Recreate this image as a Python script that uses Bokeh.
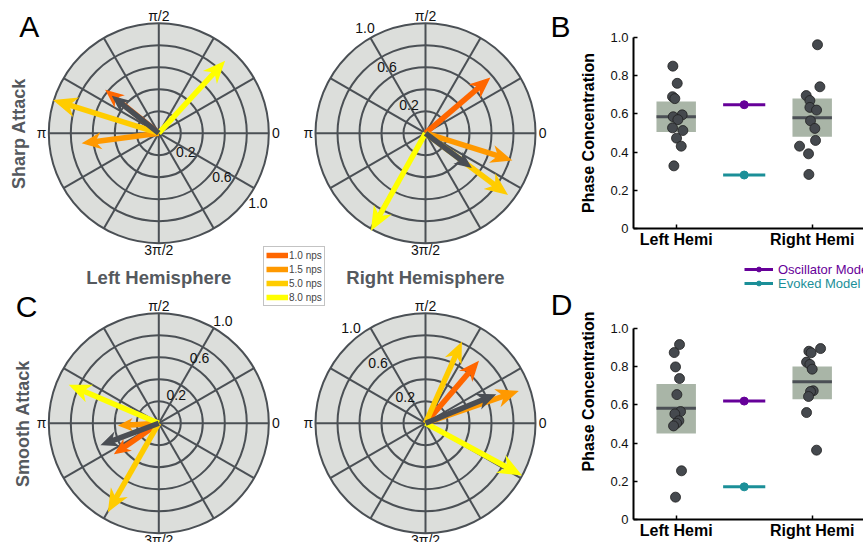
import numpy as np
from bokeh.plotting import figure
from bokeh.models import Range1d, FixedTicker, Legend, LegendItem
from bokeh.layouts import row, column
from bokeh.embed import file_html
from bokeh.resources import INLINE
from bokeh.core.properties import value

FONT = "Liberation Sans"

# ---------------- data ----------------
speed_labels = ["1.0 nps", "1.5 nps", "5.0 nps", "8.0 nps"]
speed_colors = ["#ff6600", "#ff9900", "#ffcc00", "#ffff00"]
mean_color = "#4a4e54"

# vector length (phase concentration) and angle (deg); order: 1.0, 1.5, 5.0, 8.0 nps, mean
sharp_left_len = [0.61, 0.69, 0.99, 0.875, 0.53]
sharp_left_ang = [141.0, 187.5, 162.6, 47.5, 141.5]
sharp_right_len = [0.76, 0.81, 0.92, 1.0, 0.51]
sharp_right_ang = [40.6, -17.4, -36.8, -119.2, -37.0]
smooth_left_len = [0.48, 0.355, 0.915, 0.873, 0.55]
smooth_left_ang = [214.7, 183.4, 240.2, 156.9, 200.6]
smooth_right_len = [0.73, 0.88, 0.796, 0.98, 0.678]
smooth_right_ang = [49.4, 19.1, 66.0, -28.4, 22.3]

ring_values = [0.2, 0.4, 0.6, 0.8, 1.0]
ring_label_values = [0.2, 0.6, 1.0]
ring_label_text = ["0.2", "0.6", "1.0"]
angle_label_deg = [0, 90, 180, 270]
angle_label_text = ["0", "π/2", "π", "3π/2"]
spoke_deg = [0, 30, 60, 90, 120, 150]

hemi_labels = ["Left Hemi", "Right Hemi"]
hemi_pos = [1, 3]
model_pos = 2
y_ticks = [0, 0.2, 0.4, 0.6, 0.8, 1.0]
y_tick_labels = ["0", "0.2", "0.4", "0.6", "0.8", "1.0"]

sharp_left_pc = [0.85, 0.76, 0.69, 0.68, 0.595, 0.585, 0.57, 0.527, 0.513, 0.473, 0.431, 0.328]
sharp_left_jit = [-0.049, 0.015, -0.054, -0.02, 0.088, -0.044, 0.025, -0.054, 0.098, 0.005, 0.074, -0.034]
sharp_right_pc = [0.962, 0.742, 0.696, 0.670, 0.634, 0.620, 0.564, 0.524, 0.461, 0.431, 0.391, 0.283]
sharp_right_jit = [0.078, 0.113, -0.088, -0.034, -0.034, 0.064, -0.025, 0.039, 0.049, -0.186, -0.054, -0.049]
sharp_box_low = [0.505, 0.48]
sharp_box_high = [0.665, 0.68]
sharp_median = [0.585, 0.58]
sharp_oscillator = 0.648
sharp_evoked = 0.28

smooth_left_pc = [0.916, 0.874, 0.799, 0.738, 0.654, 0.565, 0.553, 0.517, 0.504, 0.490, 0.255, 0.117]
smooth_left_jit = [0.049, -0.029, -0.010, 0.049, 0.010, 0.064, -0.020, 0.039, 0.005, -0.039, 0.078, -0.010]
smooth_right_pc = [0.895, 0.881, 0.873, 0.824, 0.812, 0.787, 0.674, 0.670, 0.644, 0.560, 0.363]
smooth_right_jit = [0.123, -0.049, -0.015, -0.083, -0.034, 0.0, 0.015, -0.025, -0.054, -0.083, 0.064]
smooth_box_low = [0.45, 0.63]
smooth_box_high = [0.709, 0.801]
smooth_median = [0.583, 0.721]
smooth_oscillator = 0.62
smooth_evoked = 0.171

model_labels = ["Oscillator Model", "Evoked Model"]

# ---------------- styles / layout ----------------
R = 110.0
DISC = "#dcdedb"
GRID = "#4b5055"
TITLE = "#55595e"
OSC = "#660099"
EVO = "#1b8f98"
BOX = "#a9b5a7"
H_TOTAL = 542

# (lengths, angles, center x, center y, radial label angle)
panels = [
    (sharp_left_len, sharp_left_ang, 158.3, 409.3, -35.0),
    (sharp_right_len, sharp_right_ang, 425.0, 409.3, 120.0),
    (smooth_left_len, smooth_left_ang, 158.3, 119.3, 58.0),
    (smooth_right_len, smooth_right_ang, 425.0, 119.3, 128.0),
]

pl = figure(width=575, height=H_TOTAL, x_range=Range1d(0, 575), y_range=Range1d(0, H_TOTAL),
            x_axis_location=None, y_axis_location=None, min_border=0,
            output_backend="svg", toolbar_location=None)
pl.outline_line_color = None
pl.grid.visible = False

cxs = [p[2] for p in panels]
cys = [p[3] for p in panels]
pl.circle(x=cxs, y=cys, radius=R, fill_color=DISC, line_color=None)

# rings
rx, ry, rr = [], [], []
for cx, cy in zip(cxs, cys):
    for v in ring_values:
        rx.append(cx); ry.append(cy); rr.append(v * R)
pl.circle(x=rx, y=ry, radius=rr, fill_color=None, line_color=GRID, line_width=2)

# spokes
sx0, sy0, sx1, sy1 = [], [], [], []
for cx, cy in zip(cxs, cys):
    for d in spoke_deg:
        t = np.deg2rad(d)
        sx0.append(cx + R * np.cos(t)); sy0.append(cy + R * np.sin(t))
        sx1.append(cx - R * np.cos(t)); sy1.append(cy - R * np.sin(t))
pl.segment(x0=sx0, y0=sy0, x1=sx1, y1=sy1, line_color=GRID, line_width=2)

# radial labels
lx, ly, lt = [], [], []
for (_, _, cx, cy, la) in panels:
    t = np.deg2rad(la)
    for v, s in zip(ring_label_values, ring_label_text):
        d = v * R + 11
        lx.append(cx + d * np.cos(t)); ly.append(cy + d * np.sin(t)); lt.append(s)
pl.text(x=lx, y=ly, text=lt, text_font=value(FONT), text_font_size="14px",
        text_align="center", text_baseline="middle", text_color="#111111")

# angle labels
ax_, ay_, at_ = [], [], []
for cx, cy in zip(cxs, cys):
    for d, s in zip(angle_label_deg, angle_label_text):
        t = np.deg2rad(d)
        ax_.append(cx + 1.065 * R * np.cos(t)); ay_.append(cy + 1.065 * R * np.sin(t)); at_.append(s)
pl.text(x=ax_, y=ay_, text=at_, text_font=value(FONT), text_font_size="14px",
        text_align="center", text_baseline="middle", text_color="#111111")

# arrows
def arrow_parts(idx):
    x0, y0, x1, y1, hx, hy = [], [], [], [], [], []
    for (lens, angs, cx, cy, _) in panels:
        L = lens[idx] * R
        t = np.deg2rad(angs[idx])
        ux, uy = np.cos(t), np.sin(t)
        nx, ny = -uy, ux
        h = 6 + 0.13 * L
        w = 3 + 0.05 * L
        tx, ty = cx + L * ux, cy + L * uy
        x0.append(cx); y0.append(cy)
        x1.append(tx - 0.55 * h * ux); y1.append(ty - 0.55 * h * uy)
        bx, by = tx - h * ux, ty - h * uy
        mx, my = tx - 0.7 * h * ux, ty - 0.7 * h * uy
        hx.append([tx, bx + w * nx, mx, bx - w * nx])
        hy.append([ty, by + w * ny, my, by - w * ny])
    return x0, y0, x1, y1, hx, hy

colors_all = speed_colors + [mean_color]
seg_renderers = []
for i, col in enumerate(colors_all):
    x0, y0, x1, y1, hx, hy = arrow_parts(i)
    r = pl.segment(x0=x0, y0=y0, x1=x1, y1=y1, line_color=col, line_width=5.5)
    pl.patches(xs=hx, ys=hy, fill_color=col, line_color=col, line_width=1.5, line_join="miter")
    seg_renderers.append(r)

legend_nps = Legend(items=[LegendItem(label=lab, renderers=[seg_renderers[i]])
                           for i, lab in enumerate(speed_labels)],
                    location=(263, 236), padding=2, margin=0, spacing=2,
                    glyph_width=22, glyph_height=12, label_height=12, label_standoff=1,
                    label_text_font=FONT, label_text_font_size="10px",
                    border_line_color="#888888", border_line_width=1,
                    background_fill_color="white", background_fill_alpha=1)
pl.add_layout(legend_nps)

# titles
pl.text(x=[158.3, 425.0], y=[265, 265], text=["Left Hemisphere", "Right Hemisphere"],
        text_font=value(FONT), text_font_size="18.5px", text_font_style="bold",
        text_align="center", text_baseline="middle", text_color=TITLE)
pl.text(x=[18.5, 22.0], y=[409, 119], text=["Sharp Attack", "Smooth Attack"],
        angle=np.pi / 2, text_font=value(FONT), text_font_size="18px", text_font_style="bold",
        text_align="center", text_baseline="middle", text_color=TITLE)
pl.text(x=[28.8, 560.0, 26.0, 561.0], y=[516, 516, 236, 238], text=["A", "B", "C", "D"],
        text_font=value(FONT), text_font_size="30px",
        text_align="center", text_baseline="middle", text_color="black")

# ---------------- hemisphere panels ----------------
PX_PER_UNIT = 68.0
X_LO = 1 - (675.7 - 633) / PX_PER_UNIT
X_HI = 1 + (863 - 675.7) / PX_PER_UNIT
BOX_HW = 0.29
MODEL_HW = 0.31


def hemi_fig(height, top, bottom, y_top, left_pc, left_jit, right_pc, right_jit,
             box_low, box_high, median, osc, evo):
    p = figure(width=288, height=height, x_range=Range1d(X_LO, X_HI), y_range=Range1d(0, y_top),
               min_border_left=58, min_border_right=0, min_border_top=top, min_border_bottom=bottom,
               output_backend="svg", toolbar_location=None)
    p.grid.visible = False
    p.outline_line_color = None
    p.xaxis.ticker = FixedTicker(ticks=hemi_pos)
    p.xaxis.major_label_overrides = {k: v for k, v in zip(hemi_pos, hemi_labels)}
    p.yaxis.ticker = FixedTicker(ticks=y_ticks)
    p.yaxis.major_label_overrides = {k: v for k, v in zip(y_ticks, y_tick_labels)}
    p.yaxis.bounds = (0, 1)
    p.yaxis.axis_label = "Phase Concentration"
    for ax in (p.xaxis[0], p.yaxis[0]):
        ax.axis_line_width = 2
        ax.axis_line_color = "black"
        ax.major_tick_in = 4
        ax.major_tick_out = 0
        ax.major_tick_line_width = 1.5
        ax.major_tick_line_color = "black"
        ax.minor_tick_line_color = None
    p.yaxis.major_label_text_font = FONT
    p.yaxis.major_label_text_font_size = "13px"
    p.yaxis.major_label_text_color = "#111111"
    p.yaxis.major_label_standoff = 5
    p.yaxis.axis_label_text_font = FONT
    p.yaxis.axis_label_text_font_size = "16px"
    p.yaxis.axis_label_text_font_style = "bold"
    p.yaxis.axis_label_text_color = "black"
    p.yaxis.axis_label_standoff = 10
    p.xaxis.major_label_text_font = FONT
    p.xaxis.major_label_text_font_size = "16px"
    p.xaxis.major_label_text_font_style = "bold"
    p.xaxis.major_label_text_color = "black"
    p.xaxis.major_label_standoff = 2

    p.quad(left=[x - BOX_HW for x in hemi_pos], right=[x + BOX_HW for x in hemi_pos],
           bottom=box_low, top=box_high, fill_color=BOX, line_color=None)
    p.segment(x0=[x - BOX_HW for x in hemi_pos], x1=[x + BOX_HW for x in hemi_pos],
              y0=median, y1=median, line_color="#4b4f55", line_width=3)
    xs = [hemi_pos[0] + j for j in left_jit] + [hemi_pos[1] + j for j in right_jit]
    ys = list(left_pc) + list(right_pc)
    p.scatter(x=xs, y=ys, size=10, fill_color="#45494e", line_color="#1f1f1f", line_width=0.8)
    osc_seg = p.segment(x0=[model_pos - MODEL_HW], x1=[model_pos + MODEL_HW], y0=[osc], y1=[osc],
                        line_color=OSC, line_width=3)
    osc_dot = p.scatter(x=[model_pos], y=[osc], size=8, fill_color=OSC, line_color=OSC)
    evo_seg = p.segment(x0=[model_pos - MODEL_HW], x1=[model_pos + MODEL_HW], y0=[evo], y1=[evo],
                        line_color=EVO, line_width=3)
    evo_dot = p.scatter(x=[model_pos], y=[evo], size=8, fill_color=EVO, line_color=EVO)
    return p, (osc_seg, osc_dot), (evo_seg, evo_dot)


# panel B: frame 37..228 (191 px for 0..1)
pB, _, _ = hemi_fig(258, 37, 30, 1.0, sharp_left_pc, sharp_left_jit, sharp_right_pc, sharp_right_jit,
                    sharp_box_low, sharp_box_high, sharp_median, sharp_oscillator, sharp_evoked)
# panel D: frame 263..519, same 191 px per unit, extra headroom holds the model legend
D_H, D_TOP, D_BOTTOM = 284, 5, 23
d_frame_h = D_H - D_TOP - D_BOTTOM
pD, osc_r, evo_r = hemi_fig(D_H, D_TOP, D_BOTTOM, d_frame_h / 191.0,
                            smooth_left_pc, smooth_left_jit, smooth_right_pc, smooth_right_jit,
                            smooth_box_low, smooth_box_high, smooth_median,
                            smooth_oscillator, smooth_evoked)

d_frame_bottom = D_H - D_BOTTOM + 258
for lab, rends, col, bottom_img in ((model_labels[0], osc_r, OSC, 276.7),
                                     (model_labels[1], evo_r, EVO, 290.7)):
    lg = Legend(items=[LegendItem(label=lab, renderers=list(rends))],
                location=(111, d_frame_bottom - bottom_img), padding=0, margin=0, spacing=0,
                glyph_width=29, glyph_height=12, label_height=12, label_standoff=5,
                label_text_font=FONT, label_text_font_size="13px", label_text_color=col,
                border_line_color=None, background_fill_alpha=0)
    pD.add_layout(lg)

layout = row(pl, column(pB, pD))
open("out.html", "w").write(file_html(layout, INLINE))
